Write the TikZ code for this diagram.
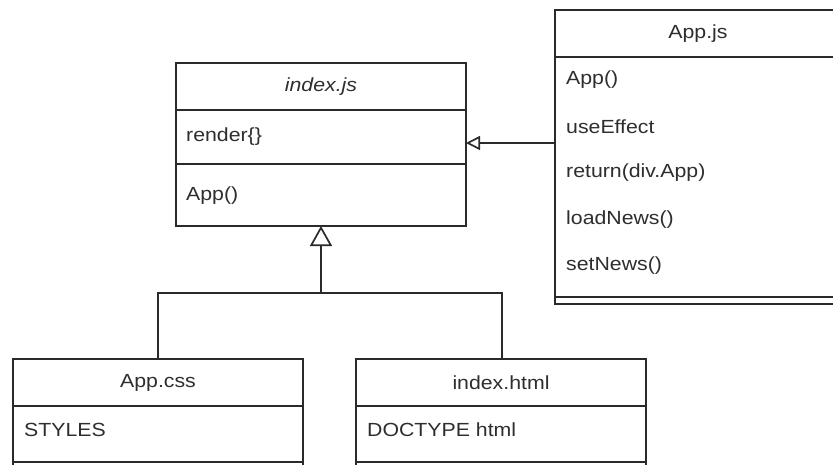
\documentclass[tikz,border=0pt]{standalone}
\usepackage{fontspec}
\setmainfont{Liberation Sans}[FakeStretch=1.12]
\usetikzlibrary{arrows.meta}
\definecolor{ln}{HTML}{2A2A2A}
\definecolor{tx}{HTML}{2E2E2E}
\begin{document}
\begin{tikzpicture}[x=1pt,y=-1pt,
  classbox/.style={draw=ln, line width=1.7pt, rectangle, anchor=north west, inner sep=0pt, outer sep=0pt},
  sep/.style={draw=ln, line width=1.7pt},
  conn/.style={draw=ln, line width=1.7pt},
  lbl/.style={text=tx, anchor=west, inner sep=0pt, font=\fontsize{19}{22}\selectfont},
  ttl/.style={text=tx, inner sep=0pt, font=\fontsize{19}{22}\selectfont},
  gen/.style={-{Triangle[open, length=20pt, width=22pt, line width=1.7pt]}},
  gensmall/.style={-{Triangle[open, length=14pt, width=14pt, line width=1.7pt]}}
]
\fill[white] (0,0) rectangle (833,464);
\clip (0,0) rectangle (833,464);

% index.js
\node[classbox, minimum width=290pt, minimum height=163pt] (idx) at (176,63) {};
\draw[sep] (idx.west |- 0,110) -- (idx.east |- 0,110);
\draw[sep] (idx.west |- 0,164) -- (idx.east |- 0,164);
\node[ttl] (idxt) at (321,87) {\itshape index.js};
\node[lbl] (idxa) at (186,137) {render\{\}};
\node[lbl] (idxm) at (186,196) {App()};

% App.js
\node[classbox, minimum width=286pt, minimum height=294pt] (appjs) at (555,10) {};
\draw[sep] (appjs.west |- 0,57) -- (appjs.east |- 0,57);
\draw[sep] (appjs.west |- 0,297) -- (appjs.east |- 0,297);
\node[ttl] (appjst) at (698,34) {App.js};
\node[lbl] (aj1) at (566,80) {App()};
\node[lbl] (aj2) at (566,127) {useEffect};
\node[lbl] (aj3) at (566,173) {return(div.App)};
\node[lbl] (aj4) at (566,220) {loadNews()};
\node[lbl] (aj5) at (566,266) {setNews()};

% App.css
\node[classbox, minimum width=290pt, minimum height=160pt] (css) at (13,359) {};
\draw[sep] (css.west |- 0,406) -- (css.east |- 0,406);
\draw[sep] (css.west |- 0,462) -- (css.east |- 0,462);
\node[ttl] (csst) at (158,383) {App.css};
\node[lbl] (css1) at (24,430) {STYLES};

% index.html
\node[classbox, minimum width=290pt, minimum height=160pt] (html) at (356,359) {};
\draw[sep] (html.west |- 0,406) -- (html.east |- 0,406);
\draw[sep] (html.west |- 0,462) -- (html.east |- 0,462);
\node[ttl] (htmlt) at (501,383) {index.html};
\node[lbl] (html1) at (367,430) {DOCTYPE html};

% connectors
\coordinate (ajport) at (555,143);
\draw[conn, gensmall] (ajport) -- (idx.east |- ajport);

\coordinate (jn) at (idx.south |- 0,293);
\draw[conn] (css.north -| 158,0) |- (jn) -| (html.north -| 502,0);
\draw[conn, gen] (jn) -- (idx.south);
\end{tikzpicture}
\end{document}
